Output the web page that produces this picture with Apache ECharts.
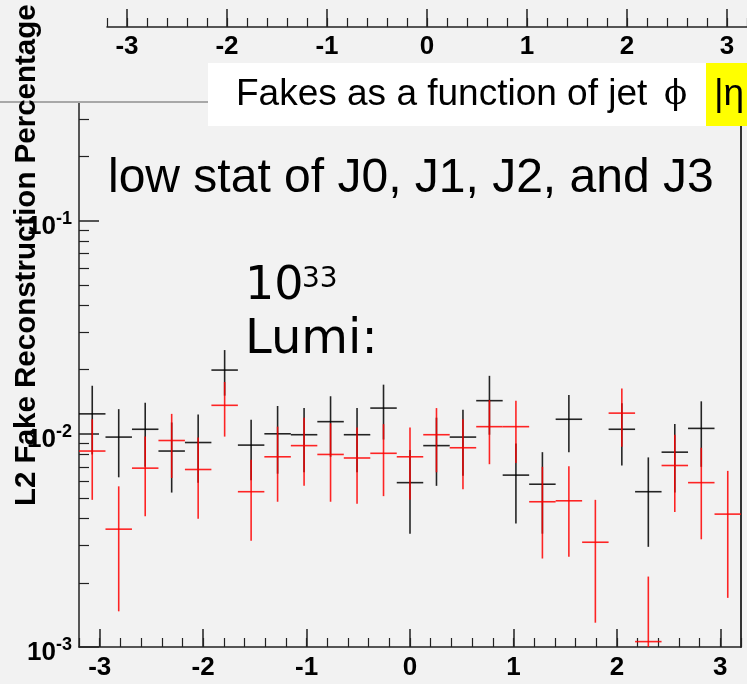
<!DOCTYPE html>
<html>
<head>
<meta charset="utf-8">
<script src="https://cdn.jsdelivr.net/npm/echarts@6/dist/echarts.min.js"></script>
<style>
  html, body { margin: 0; padding: 0; background: #f2f2f2; }
  #chart { width: 747px; height: 684px; }
</style>
</head>
<body>
<div id="chart"></div>
<script>
// Jet phi bins: 25 bins spanning [-3.2, 3.2]
const phiCenters = [-3.072, -2.816, -2.56, -2.304, -2.048, -1.792, -1.536, -1.28, -1.024, -0.768,
                    -0.512, -0.256, 0, 0.256, 0.512, 0.768, 1.024, 1.28, 1.536, 1.792,
                    2.048, 2.304, 2.56, 2.816, 3.072];
const binWidth = 0.256;

// L2 fake fraction, black sample (empty bins are null)
const blackFake = [0.0124, 0.00965, 0.0105, 0.0083, 0.0091, 0.0199, 0.00885, 0.0100, 0.0099, 0.0114,
                   0.0099, 0.0132, 0.0059, 0.0088, 0.00965, 0.0143, 0.0064, 0.0058, 0.0117, null,
                   0.0105, 0.00535, 0.0082, 0.0106, null];
const blackErr  = [0.0044, 0.0034, 0.0035, 0.0030, 0.0032, 0.0048, 0.0028, 0.0035, 0.0033, 0.0036,
                   0.0033, 0.0038, 0.0025, 0.0031, 0.0033, 0.0044, 0.0026, 0.0024, 0.0035, null,
                   0.0034, 0.0024, 0.0029, 0.0036, null];

// L2 fake fraction, red sample
const redFake = [0.0083, 0.00357, 0.0069, 0.0093, 0.0068, 0.0136, 0.00535, 0.0078, 0.0088, 0.0080,
                 0.0077, 0.0081, 0.0078, 0.0099, 0.0086, 0.0108, 0.0108, 0.0048, 0.00485, 0.0031,
                 0.0125, 0.00106, 0.0071, 0.0059, 0.0042];
const redErr  = [0.0034, 0.0021, 0.0028, 0.0031, 0.0028, 0.0039, 0.0022, 0.0030, 0.0031, 0.0032,
                 0.0030, 0.0030, 0.0029, 0.0033, 0.0031, 0.0036, 0.0035, 0.0022, 0.0022, 0.0018,
                 0.0038, 0.00108, 0.0028, 0.0027, 0.0025];

// Axis ticks
const phiTicks = [-3, -2, -1, 0, 1, 2, 3];
const yMajorTicks = [0.001, 0.01, 0.1];
const yMinorTicks = [0.002, 0.003, 0.004, 0.005, 0.006, 0.007, 0.008, 0.009,
                     0.02, 0.03, 0.04, 0.05, 0.06, 0.07, 0.08, 0.09,
                     0.2, 0.3];
const yMin = 0.001, yMax = 0.356;
const xMin = -3.2, xMax = 3.2;

function points(vals, errs) {
  const out = [];
  for (let i = 0; i < phiCenters.length; i++) {
    if (vals[i] != null) out.push([phiCenters[i], vals[i], errs[i]]);
  }
  return out;
}

function errorBars(color) {
  return function (params, api) {
    const x = api.value(0), y = api.value(1), e = api.value(2);
    const pL = api.coord([x - binWidth / 2, y]);
    const pR = api.coord([x + binWidth / 2, y]);
    const pT = api.coord([x, y + e]);
    const pB = api.coord([x, Math.max(y - e, yMin)]);
    const st = { stroke: color, lineWidth: 1.6 };
    return {
      type: 'group',
      children: [
        { type: 'line', shape: { x1: pL[0], y1: pL[1], x2: pR[0], y2: pR[1] }, style: st },
        { type: 'line', shape: { x1: pT[0], y1: pT[1], x2: pB[0], y2: pB[1] }, style: st }
      ]
    };
  };
}

const boldLabel = { fontFamily: 'Liberation Sans', fontWeight: 'bold', fontSize: 26, color: '#000' };
const frameColor = '#222';

const chart = echarts.init(document.getElementById('chart'), null, { renderer: 'canvas' });
chart.setOption({
  backgroundColor: '#f2f2f2',
  animation: false,
  grid: [
    { left: 79, right: 6, top: 103, bottom: 37, containLabel: false },
    { left: 107, right: 0, top: 0, height: 27, containLabel: false }
  ],
  xAxis: [
    { // main phi axis: labels and major ticks
      type: 'value', gridIndex: 0, position: 'bottom', min: xMin, max: xMax,
      axisLine: { show: true, onZero: false, lineStyle: { color: frameColor, width: 1.5 } },
      axisTick: { show: true, inside: true, length: 18, customValues: phiTicks, lineStyle: { color: frameColor, width: 1.5 } },
      axisLabel: Object.assign({ show: true, margin: 8, customValues: phiTicks }, boldLabel),
      splitLine: { show: false }
    },
    { // main phi axis: minor ticks
      type: 'value', gridIndex: 0, position: 'bottom', min: xMin, max: xMax, interval: 0.2,
      axisLine: { show: false, onZero: false },
      axisTick: { show: true, inside: true, length: 9, lineStyle: { color: frameColor, width: 1.2 } },
      axisLabel: { show: false },
      splitLine: { show: false }
    },
    { // upper pad phi axis: labels and major ticks
      type: 'value', gridIndex: 1, position: 'bottom', min: xMin, max: xMax,
      axisLine: { show: true, onZero: false, lineStyle: { color: frameColor, width: 1.5 } },
      axisTick: { show: true, inside: true, length: 18, customValues: phiTicks, lineStyle: { color: frameColor, width: 1.5 } },
      axisLabel: Object.assign({ show: true, margin: 7, customValues: phiTicks }, boldLabel),
      splitLine: { show: false }
    },
    { // upper pad phi axis: minor ticks
      type: 'value', gridIndex: 1, position: 'bottom', min: xMin, max: xMax, interval: 0.2,
      axisLine: { show: false, onZero: false },
      axisTick: { show: true, inside: true, length: 9, lineStyle: { color: frameColor, width: 1.2 } },
      axisLabel: { show: false },
      splitLine: { show: false }
    }
  ],
  yAxis: [
    { // fake percentage, log scale: labels and decade ticks
      type: 'log', logBase: 10, gridIndex: 0, position: 'left', min: yMin, max: yMax,
      axisLine: { show: true, onZero: false, lineStyle: { color: frameColor, width: 1.5 } },
      axisTick: { show: true, inside: true, length: 20, customValues: yMajorTicks, lineStyle: { color: frameColor, width: 1.5 } },
      axisLabel: {
        show: true, margin: 7, customValues: yMajorTicks,
        formatter: function (v) {
          return '{b|10}{s|' + Math.round(Math.log10(v)) + '}';
        },
        rich: {
          b: { fontFamily: 'Liberation Sans', fontWeight: 'bold', fontSize: 26, color: '#000', verticalAlign: 'bottom', padding: [12, 0, 0, 0] },
          s: { fontFamily: 'Liberation Sans', fontWeight: 'bold', fontSize: 18, color: '#000', verticalAlign: 'top', padding: [8, 0, 0, 0] }
        }
      },
      splitLine: { show: false }
    },
    { // log minor ticks
      type: 'log', logBase: 10, gridIndex: 0, position: 'left', min: yMin, max: yMax,
      axisLine: { show: false, onZero: false },
      axisTick: { show: true, inside: true, length: 10, customValues: yMinorTicks, lineStyle: { color: frameColor, width: 1.2 } },
      axisLabel: { show: false },
      splitLine: { show: false }
    },
    { // right frame edge
      type: 'log', logBase: 10, gridIndex: 0, position: 'right', min: yMin, max: yMax,
      axisLine: { show: true, onZero: false, lineStyle: { color: '#333', width: 2 } },
      axisTick: { show: false }, axisLabel: { show: false }, splitLine: { show: false }
    },
    { // upper pad placeholder axis
      type: 'value', gridIndex: 1, show: false
    }
  ],
  series: [
    {
      name: 'black', type: 'custom', xAxisIndex: 0, yAxisIndex: 0,
      renderItem: errorBars('rgba(0,0,0,0.85)'),
      encode: { x: 0, y: 1 },
      data: points(blackFake, blackErr), z: 3
    },
    {
      name: 'red', type: 'custom', xAxisIndex: 0, yAxisIndex: 0,
      renderItem: errorBars('rgba(255,0,0,0.85)'),
      encode: { x: 0, y: 1 },
      data: points(redFake, redErr), z: 4
    }
  ],
  graphic: [
    { type: 'line', z: 50, shape: { x1: 0, y1: 102, x2: 208, y2: 102 }, style: { stroke: '#a8a8a8', lineWidth: 2 } },
    { type: 'rect', z: 60, shape: { x: 208, y: 63, width: 498, height: 63 }, style: { fill: '#ffffff' } },
    { type: 'rect', z: 60, shape: { x: 706, y: 63, width: 41, height: 63 }, style: { fill: '#ffff00' } },
    { type: 'text', z: 70, x: 236, y: 95, style: { text: 'Fakes as a function of jet', font: '37px "Liberation Sans"', fill: '#000', textAlign: 'left', textVerticalAlign: 'middle' } },
    { type: 'text', z: 70, x: 664, y: 95, style: { text: 'ϕ', font: '34px "DejaVu Serif"', fill: '#000', textAlign: 'left', textVerticalAlign: 'middle' } },
    { type: 'text', z: 70, x: 714, y: 95, style: { text: '|η', font: '37px "Liberation Sans"', fill: '#000', textAlign: 'left', textVerticalAlign: 'middle' } },
    { type: 'text', z: 80, x: 27, y: 506, rotation: Math.PI / 2, style: { text: 'L2 Fake Reconstruction Percentage', font: 'bold 29.5px "Liberation Sans"', fill: '#000', textAlign: 'left', textVerticalAlign: 'middle' } },
    { type: 'text', z: 70, x: 108, y: 179, style: { text: 'low stat of J0, J1, J2, and J3', font: '48px "Liberation Sans"', fill: '#000', textAlign: 'left', textVerticalAlign: 'middle' } },
    { type: 'text', z: 70, x: 245, y: 287, style: { text: '10', font: '46px "DejaVu Sans"', fill: '#000', textAlign: 'left', textVerticalAlign: 'middle' } },
    { type: 'text', z: 70, x: 302, y: 280, style: { text: '33', font: '28px "DejaVu Sans"', fill: '#000', textAlign: 'left', textVerticalAlign: 'middle' } },
    { type: 'text', z: 70, x: 245, y: 341, style: { text: 'Lumi:', font: '48px "DejaVu Sans"', fill: '#000', textAlign: 'left', textVerticalAlign: 'middle' } }
  ]
});
</script>
</body>
</html>
